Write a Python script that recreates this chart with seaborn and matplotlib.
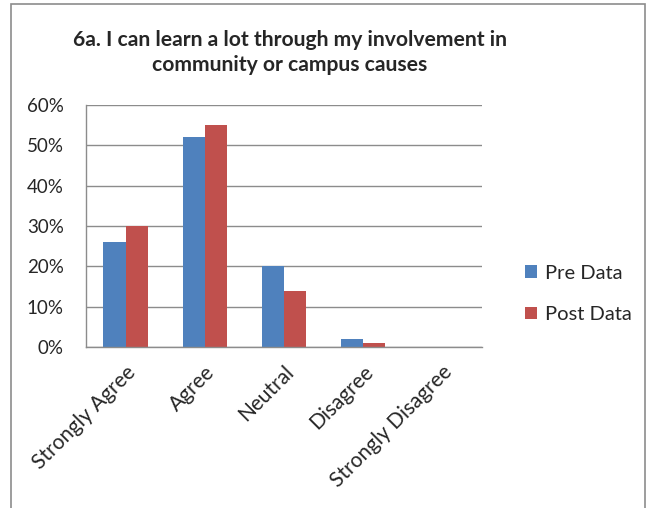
import matplotlib
matplotlib.use("Agg")
import matplotlib.pyplot as plt
import seaborn as sns
import pandas as pd
from matplotlib.patches import Rectangle
from matplotlib.ticker import FixedLocator, PercentFormatter

# Data
categories = ["Strongly Agree", "Agree", "Neutral", "Disagree", "Strongly Disagree"]
pre_data = [26, 52, 20, 2, 0]
post_data = [30, 55, 14, 1, 0]
series = ["Pre Data", "Post Data"]

df = pd.DataFrame({
    "Response": categories * 2,
    "Percent": pre_data + post_data,
    "Series": [series[0]] * len(categories) + [series[1]] * len(categories),
})

sns.set_style("white")
plt.rcParams["font.family"] = ["Lato", "DejaVu Sans"]

fig = plt.figure(figsize=(6.49, 5.08), dpi=100)
ax = fig.add_axes([0.1325, 0.317, 0.61, 0.4763])

sns.barplot(data=df, x="Response", y="Percent", hue="Series",
            palette=["#4F81BD", "#C0504D"], width=0.56, ax=ax,
            saturation=1, edgecolor="none", legend=True)

ax.set_ylim(0, 60)
ax.set_xlim(-0.5, len(categories) - 0.5)
ax.set_yticks(range(0, 61, 10))
ax.yaxis.set_major_formatter(PercentFormatter(decimals=0))
ax.yaxis.grid(True, color="#8c8c8c", linewidth=1)
ax.set_axisbelow(True)
ax.set_xlabel("")
ax.set_ylabel("")

for s in ["top", "right"]:
    ax.spines[s].set_visible(False)
for s in ["left", "bottom"]:
    ax.spines[s].set_color("#8c8c8c")
    ax.spines[s].set_linewidth(1)

# tick marks at category boundaries, labels at centres
ax.xaxis.set_minor_locator(FixedLocator([i - 0.5 for i in range(len(categories) + 1)]))
ax.tick_params(axis="x", which="major", length=0, labelsize=15, pad=11)
ax.tick_params(axis="x", which="minor", length=5, color="#8c8c8c", direction="out")
ax.tick_params(axis="y", length=6, color="#8c8c8c", direction="out", labelsize=13.5, pad=10)
plt.setp(ax.get_xticklabels(), rotation=45, ha="right", rotation_mode="anchor")

fig.text(290 / 649, 1 - 46 / 508, "6a. I can learn a lot through my involvement in",
         fontsize=15.2, fontweight="bold", ha="center", va="baseline")
fig.text(290 / 649, 1 - 71 / 508, "community or campus causes",
         fontsize=15.2, fontweight="bold", ha="center", va="baseline")

handles, labels = ax.get_legend_handles_labels()
ax.legend(handles, labels, loc="center left", bbox_to_anchor=(515 / 649, 1 - 294 / 508),
          bbox_transform=fig.transFigure, frameon=False, fontsize=14.5,
          handlelength=0.6, handleheight=0.6, labelspacing=1.2, handletextpad=0.4,
          borderpad=0)

fig.patches.append(Rectangle((11 / 649, -0.05), 634 / 649, 1.05 - 4 / 508,
                             transform=fig.transFigure, fill=False,
                             edgecolor="#8c8c8c", linewidth=1.2))

fig.savefig("out.png", dpi=100)
